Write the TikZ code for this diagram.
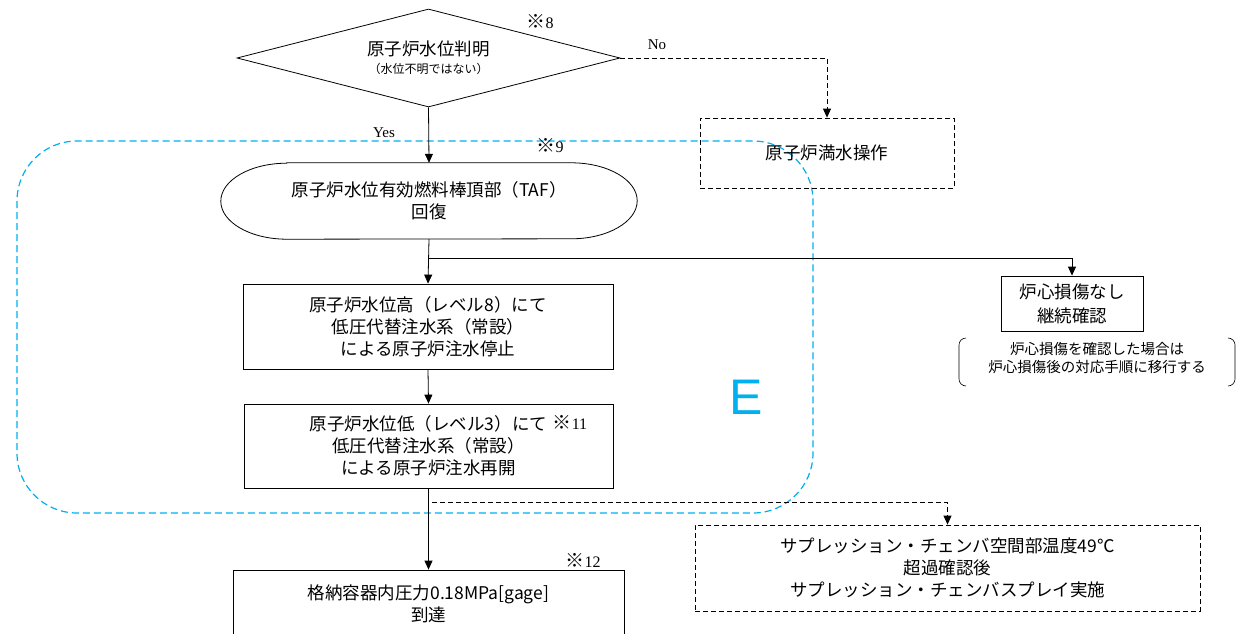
\documentclass[tikz,border=0pt]{standalone}
\usepackage{fontspec}
\setmainfont{Noto Sans CJK JP}
\newfontfamily\cjkjp{Noto Sans CJK JP}
\newfontfamily\efont{Liberation Sans}
\newfontfamily\latinserif{Liberation Serif}
\usetikzlibrary{shapes.geometric,arrows.meta,calc}
\definecolor{eblue}{HTML}{00B0F0}
\newcommand{\kome}{{\cjkjp\fontsize{19}{20}\selectfont ※}}
\begin{document}
\begin{tikzpicture}[x=1pt,y=-1pt,
 every node/.style={font=\fontsize{17.5}{22}\selectfont, inner sep=0pt, align=center},
 box/.style={draw, line width=0.8pt, rectangle},
 dbox/.style={box, dash pattern=on 5pt off 3pt},
 arr/.style={-{Triangle[length=9pt,width=8pt]}, line width=0.8pt},
 darr/.style={arr, dash pattern=on 5pt off 3pt},
 small/.style={font=\latinserif\fontsize{15}{16}\selectfont},
 refmark/.style={font=\latinserif\fontsize{16}{18}\selectfont},
 notetxt/.style={font=\fontsize{14.5}{18}\selectfont},
 brk/.style={line width=0.6pt, rounded corners=7pt}]
\useasboundingbox (0,0) rectangle (1236,634);
\clip (0,0) rectangle (1236,634);
\fill[white] (0,0) rectangle (1236,634);

% blue dashed region
\draw[eblue, line width=1.2pt, dash pattern=on 7pt off 4pt, rounded corners=60pt] (17,141) rectangle (813,513);
\node[font=\efont\fontsize{50}{50}\selectfont, text=eblue] (E) at (746,397) {E};

% nodes
\node[diamond, draw, line width=0.8pt, aspect=3.9, minimum width=383pt, minimum height=98pt] (dia) at (428.5,58)
  {原子炉水位判明\\[-4pt]{\fontsize{12}{14}\selectfont （水位不明ではない）}};
\node[refmark] (n8) at (540,22) {\kome8};

\node[dbox, minimum width=254pt, minimum height=70pt] (full) at (827,153) {原子炉満水操作};

\node[rectangle, minimum width=416pt, minimum height=76pt] (taf) at (429,201)
  {原子炉水位有効燃料棒頂部（TAF）\\回復};
\draw[line width=0.8pt] ($(taf.north west)+(66,0)$) -- ($(taf.north east)+(-66,0)$)
  arc[start angle=-90, end angle=90, x radius=66, y radius=38]
  -- ($(taf.south west)+(66,0)$)
  arc[start angle=90, end angle=270, x radius=66, y radius=38] -- cycle;
\node[refmark] (n9) at (550,146) {\kome9};

\node[box, minimum width=370pt, minimum height=85pt] (b1) at (428,326.5)
  {原子炉水位高（レベル8）にて\\低圧代替注水系（常設）\\による原子炉注水停止};

\node[box, minimum width=369pt, minimum height=84pt] (b2) at (428.5,446)
  {原子炉水位低（レベル3）にて\\低圧代替注水系（常設）\\による原子炉注水再開};
\node[refmark] (n11) at (570,422) {\kome11};

\node[box, minimum width=391pt, minimum height=68pt] (b3) at (428.5,604)
  {格納容器内圧力0.18MPa[gage]\\到達};
\node[refmark] (n12) at (583,560) {\kome12};

\node[box, minimum width=142pt, minimum height=55pt, font=\fontsize{17.5}{24}\selectfont] (nd) at (1072,303.5)
  {炉心損傷なし\\継続確認};
\node[notetxt] (note) at (1097,358) {炉心損傷を確認した場合は\\炉心損傷後の対応手順に移行する};
\draw[brk] (966,338) -- (959,338) -- (959,386) -- (966,386);
\draw[brk] (1228,338) -- (1235,338) -- (1235,386) -- (1228,386);

\node[dbox, minimum width=505pt, minimum height=86pt] (sp) at (947.5,568)
  {サプレッション・チェンバ空間部温度49℃\\超過確認後\\サプレッション・チェンバスプレイ実施};

% labels
\node[small] (yes) at (384,133) {Yes};
\node[small] (no) at (657,45) {No};

% connectors
\draw[arr] (dia.south) -- (taf.north);
\draw[darr] (dia.east) -| (full.north);
\draw[arr] (taf.south) -- (b1.north);
\coordinate (br) at (429,258);
\draw[arr] (br) -| (nd.north);
\draw[arr] (b1.south) -- (b2.north);
\draw[arr] (b2.south) -- (b3.north);
\coordinate (spc) at (432,502);
\draw[darr] (spc) -| (sp.north);
\end{tikzpicture}
\end{document}
